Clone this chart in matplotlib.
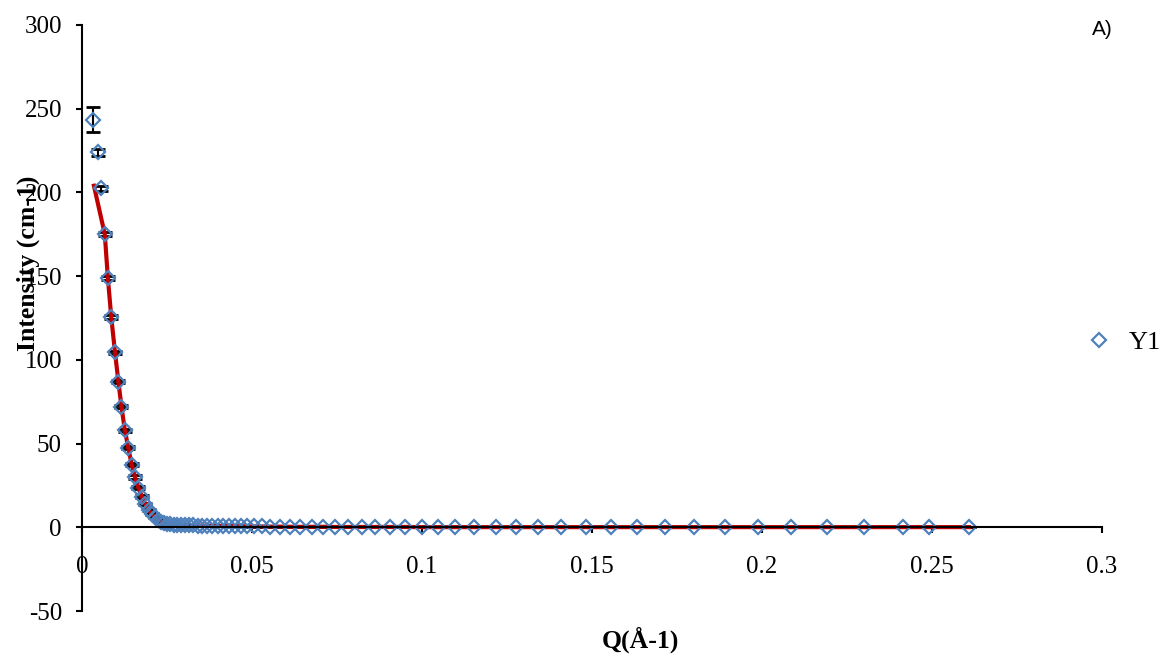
import matplotlib

matplotlib.use("Agg")
import matplotlib.pyplot as plt  # noqa: E402
from matplotlib.ticker import FuncFormatter, MultipleLocator  # noqa: E402

plt.rcParams["axes.unicode_minus"] = False

# measured scattering curve (Y1) with error bars
q = [0.0033, 0.0046, 0.0056, 0.0067, 0.0076, 0.0086, 0.0097, 0.0107, 0.0116,
     0.0126, 0.0136, 0.0146, 0.0156, 0.0166, 0.0176, 0.0186, 0.0196, 0.0205,
     0.0214, 0.0223, 0.0232, 0.0241, 0.0250, 0.0260, 0.0270, 0.0280, 0.0291,
     0.0302, 0.0314, 0.0327, 0.0340, 0.0354, 0.0368, 0.0383, 0.0399, 0.0415,
     0.0432, 0.0449, 0.0467, 0.0486, 0.0505, 0.0528, 0.0553, 0.0582, 0.0612,
     0.0641, 0.0676, 0.0710, 0.0744, 0.0783, 0.0823, 0.0862, 0.0906, 0.0950,
     0.0999, 0.1048, 0.1097, 0.1153, 0.1218, 0.1276, 0.1341, 0.1409, 0.1482,
     0.1556, 0.1632, 0.1715, 0.1800, 0.1891, 0.1988, 0.2085, 0.2191, 0.2300,
     0.2415, 0.2491, 0.2609]
intensity = [243.5, 224.0, 202.5, 175.0, 149.0, 125.5, 104.5, 87.0, 72.0,
             58.0, 47.5, 37.5, 30.0, 23.5, 18.3, 14.0, 10.5, 8.0,
             6.0, 4.5, 3.4, 2.6, 2.1, 1.8, 1.6, 1.5, 1.4,
             1.3, 1.2, 1.1, 1.0, 1.0, 0.9, 0.9, 0.8, 0.8,
             0.7, 0.7, 0.6, 0.6, 0.5, 0.5, 0.4, 0.4, 0.3,
             0.3, 0.3, 0.3, 0.2, 0.2, 0.2, 0.2, 0.2, 0.2,
             0.1, 0.1, 0.1, 0.1, 0.1, 0.1, 0.1, 0.1, 0.1,
             0.1, 0.1, 0.1, 0.1, 0.1, 0.1, 0.1, 0.1, 0.1,
             0.1, 0.1, 0.1]
error = [7.3, 2.0, 1.5, 1.2, 1.2, 1.0, 1.0, 1.0, 1.0,
         1.0, 1.0, 1.0, 1.0, 0.9, 0.8, 0.8, 0.6, 0.5,
         0.5, 0.4, 0.3, 0.3, 0.3, 0.2] + [0.2] * 51

# model fit (red curve)
fit_q = [0.0035] + q[3:]
fit_i = [204.0] + intensity[3:]

x_ticks_labels = ["0", "0.05", "0.1", "0.15", "0.2", "0.25", "0.3"]

fig = plt.figure(figsize=(11.7, 6.61), dpi=100)
ax = fig.add_axes([0.0701, 0.0756, 0.8718, 0.8866])

ax.errorbar(q, intensity, yerr=error, fmt="none", ecolor="black",
            elinewidth=1.5, capsize=5, capthick=2, zorder=2)
ax.plot(fit_q, fit_i, color="#C00000", lw=3, zorder=3)
(pts,) = ax.plot(q, intensity, linestyle="none", marker="D", markersize=7.5,
                 markerfacecolor="none", markeredgecolor="#4F81BD",
                 markeredgewidth=1.6, label="Y1", zorder=4)

ax.set_xlim(0, 0.3)
ax.set_ylim(-50, 300)
ax.xaxis.set_major_locator(MultipleLocator(0.05))
ax.yaxis.set_major_locator(MultipleLocator(50))
ax.xaxis.set_major_formatter(FuncFormatter(lambda v, p: x_ticks_labels[int(round(v / 0.05))]
                                           if 0 <= round(v / 0.05) < len(x_ticks_labels) else ""))
ax.yaxis.set_major_formatter(FuncFormatter(lambda v, p: str(int(round(v)))))

for side in ["top", "right"]:
    ax.spines[side].set_visible(False)
ax.spines["bottom"].set_position(("data", 0))
for side in ["left", "bottom"]:
    ax.spines[side].set_linewidth(1.5)
    ax.spines[side].set_zorder(5)

ax.tick_params(axis="both", direction="out", length=4.5, width=1.5,
               labelsize=18, color="black")
ax.tick_params(axis="x", pad=16)
ax.tick_params(axis="y", pad=10)
for lab in ax.get_xticklabels() + ax.get_yticklabels():
    lab.set_fontfamily("Liberation Serif")

fig.text(0.024, 0.602, "Intensity (cm-1)", rotation=90, ha="center", va="center",
         fontsize=18.5, fontweight="bold", family="Liberation Serif")
fig.text(0.547, 0.032, "Q(Å-1)", ha="center", va="center",
         fontsize=18.5, fontweight="bold", family="Liberation Serif")
fig.text(0.9425, 0.955, "A)", ha="center", va="center", fontsize=15,
         family="Liberation Sans")

fig.legend(handles=[pts], loc="center left", bbox_to_anchor=(0.908, 0.482),
           frameon=False, handlelength=1.0, handletextpad=0.6,
           prop={"family": "Liberation Serif", "size": 19}, numpoints=1)

fig.savefig("out.png", dpi=100)
